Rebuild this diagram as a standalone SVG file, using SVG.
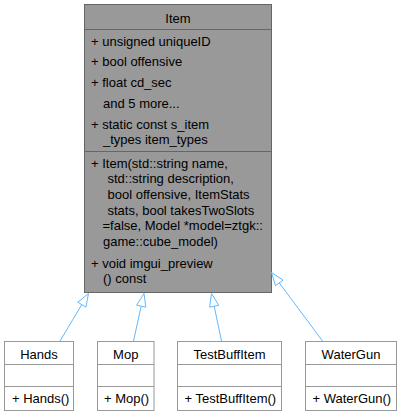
<svg xmlns="http://www.w3.org/2000/svg" width="402" height="416" viewBox="0 0 402 416">
<style>
text{font-family:"Liberation Sans",Arial,sans-serif;font-size:13px;fill:#000}
.c{text-anchor:middle}
.main{fill:#999999;stroke:#666666;stroke-width:1}
.sub{fill:#ffffff;stroke:#999999;stroke-width:1}
.div1{stroke:#666666;stroke-width:1}
.div2{stroke:#999999;stroke-width:1}
.edge{fill:none;stroke:#63b8ff;stroke-width:1}
</style>
<rect x="0" y="0" width="402" height="416" fill="#ffffff"/>
<g id="Item">
<rect class="main" x="84.5" y="4.5" width="187" height="288"/>
<line class="div1" x1="84.5" y1="29.5" x2="271.5" y2="29.5"/>
<line class="div1" x1="84.5" y1="151.5" x2="271.5" y2="151.5"/>
<text class="c" x="178" y="23">Item</text>
<text x="91" y="45.5">+ unsigned uniqueID</text>
<text x="91" y="66">+ bool offensive</text>
<text x="91" y="87">+ float cd_sec</text>
<text x="103" y="107.5">and 5 more...</text>
<text x="91" y="128.5">+ static const s_item</text>
<text x="103" y="144">_types item_types</text>
<text x="91" y="167.5">+ Item(std::string name,</text>
<text x="107.5" y="183">std::string description,</text>
<text x="107.5" y="199">bool offensive, ItemStats</text>
<text x="107.5" y="214.5">stats, bool takesTwoSlots</text>
<text x="102.5" y="230">=false, Model *model=ztgk::</text>
<text x="103" y="245.5">game::cube_model)</text>
<text x="91" y="267.5">+ void imgui_preview</text>
<text x="103" y="283">() const</text>
</g>
<g id="Hands">
<rect class="sub" x="4.5" y="341.5" width="69" height="69"/>
<line class="div2" x1="4.5" y1="364.5" x2="73.5" y2="364.5"/>
<line class="div2" x1="4.5" y1="386.5" x2="73.5" y2="386.5"/>
<text class="c" x="39" y="358.5">Hands</text>
<text x="12" y="402.5">+ Hands()</text>
</g>
<g id="Mop">
<rect class="sub" x="97.5" y="341.5" width="56.5" height="69"/>
<line class="div2" x1="97.5" y1="364.5" x2="154" y2="364.5"/>
<line class="div2" x1="97.5" y1="386.5" x2="154" y2="386.5"/>
<text class="c" x="125.75" y="358.5">Mop</text>
<text x="104" y="402.5">+ Mop()</text>
</g>
<g id="TestBuffItem">
<rect class="sub" x="177.5" y="341.5" width="104" height="69"/>
<line class="div2" x1="177.5" y1="364.5" x2="281.5" y2="364.5"/>
<line class="div2" x1="177.5" y1="386.5" x2="281.5" y2="386.5"/>
<text class="c" x="229.5" y="358.5">TestBuffItem</text>
<text x="184.5" y="402.5">+ TestBuffItem()</text>
</g>
<g id="WaterGun">
<rect class="sub" x="305.5" y="341.5" width="91" height="69"/>
<line class="div2" x1="305.5" y1="364.5" x2="396.5" y2="364.5"/>
<line class="div2" x1="305.5" y1="386.5" x2="396.5" y2="386.5"/>
<text class="c" x="351" y="358.5">WaterGun</text>
<text x="312.5" y="402.5">+ WaterGun()</text>
</g>
<g id="connectors">
<path class="edge" d="M60,341 L81.8,304.6"/>
<polygon class="edge" points="88.5,293.5 77.8,302.2 85.9,307.1"/>
<path class="edge" d="M133.5,341 L141.2,306.2"/>
<polygon class="edge" points="144,293.5 136.6,305.2 145.8,307.2"/>
<path class="edge" d="M221.5,341 L214.2,306.2"/>
<polygon class="edge" points="211.5,293.5 218.8,305.3 209.6,307.2"/>
<path class="edge" d="M322.5,341 L279.3,282.9"/>
<polygon class="edge" points="271.5,272.5 283,280.1 275.5,285.7"/>
</g>
</svg>
